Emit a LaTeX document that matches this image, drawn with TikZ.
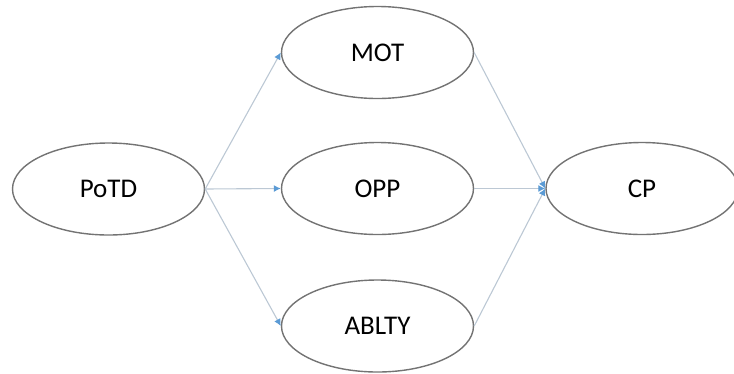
\documentclass[tikz,border=0pt]{standalone}
\usepackage{fontspec}
\setmainfont{Carlito}
\definecolor{mEdgeGray}{HTML}{737373}
\definecolor{mLinkBlue}{HTML}{BCC8D4}
\definecolor{mTipBlue}{HTML}{5B9BD5}
\usetikzlibrary{positioning,arrows.meta,shapes.geometric}

\begin{document}
\begin{tikzpicture}[x=1pt, y=1pt, font=\fontsize{27}{30}\selectfont,
  every node/.style={draw=mEdgeGray, ellipse, line width=1.4pt, minimum width=192pt, minimum height=92pt, inner sep=0pt},
  link/.style={draw=mLinkBlue, line width=1.1pt, -{Latex[length=7pt,width=7pt,fill=mTipBlue,color=mTipBlue]}}]
\useasboundingbox (0,0) rectangle (734,-373);
\node (PoTD) at (108.5,-189) {PoTD};
\node (MOT) at (377.5,-52.5) {MOT};
\node (OPP) at (377.5,-188.5) {OPP};
\node (ABLTY) at (377.5,-326) {ABLTY};
\node (CP) at (642,-188.5) {CP};
\draw[link] (PoTD.east)--(MOT.west); \draw[link] (PoTD.east)--(OPP.west);
\draw[link] (PoTD.east)--(ABLTY.west);
\draw[link] (MOT.east)--(CP.west); \draw[link] (OPP.east)--(CP.west);
\draw[link] (ABLTY.east)--(CP.west);
\end{tikzpicture}
\end{document}
